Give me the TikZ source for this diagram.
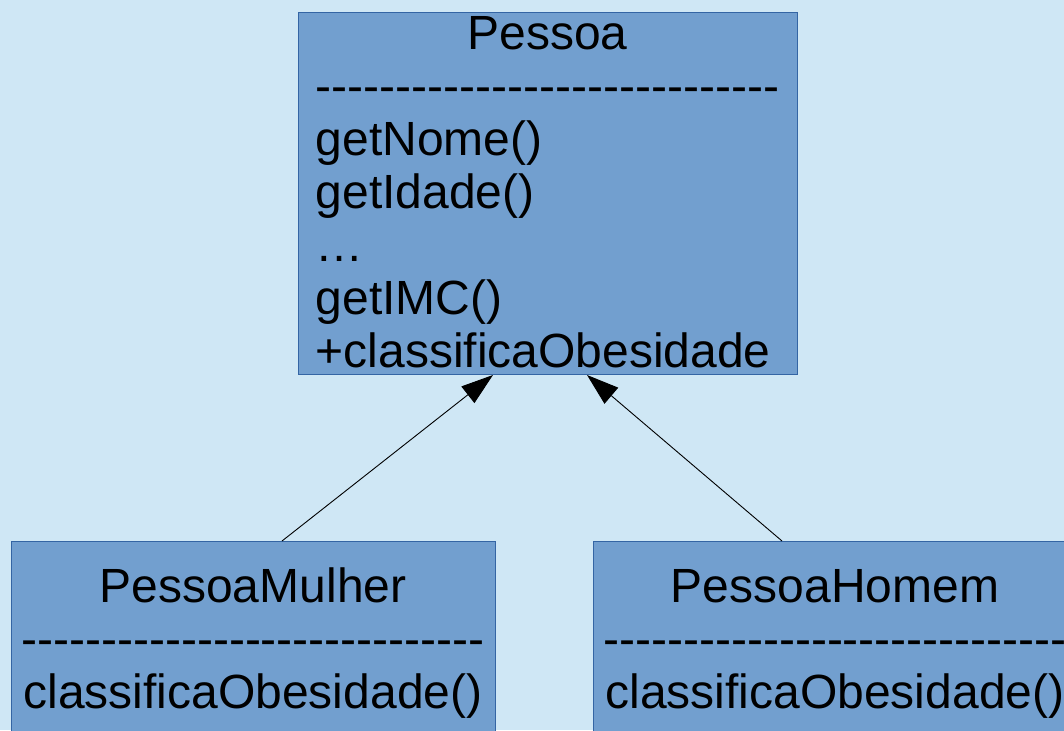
\documentclass[tikz,border=0pt]{standalone}
\usepackage{fontspec}
\setmainfont{Liberation Sans}
\usetikzlibrary{arrows.meta}
\definecolor{bg}{HTML}{CFE7F5}
\definecolor{boxfill}{HTML}{729FCF}
\definecolor{boxline}{HTML}{3465A4}
% a row of separate hyphens (kept apart so they never join into dashes)
\newcommand{\hy}{\hbox{-}}
\newcommand{\sepline}{\hy\hy\hy\hy\hy\hy\hy\hy\hy\hy\hy\hy\hy\hy\hy\hy\hy\hy\hy\hy\hy\hy\hy\hy\hy\hy\hy\hy\hy}
\tikzset{
  umlbox/.style={draw=boxline, fill=boxfill, line width=1pt, rectangle, inner sep=0pt},
  umltext/.style={font=\fontsize{48}{53}\selectfont, inner sep=0pt, text=black},
  inherits/.style={draw=black, line width=0.9pt, -{Triangle[length=32pt,width=21pt]}}
}
\begin{document}
\begin{tikzpicture}[x=1pt,y=-1pt]
  \useasboundingbox (0,0) rectangle (1064,730);
  \clip (0,0) rectangle (1064,730);
  \fill[bg] (0,0) rectangle (1064,730);

  % class boxes
  \node[umlbox, minimum width=499pt, minimum height=362pt, anchor=north west] (pessoa) at (298,12) {};
  \node[umlbox, minimum width=484pt, minimum height=230pt, anchor=north west] (mulher) at (11,541) {};
  \node[umlbox, minimum width=484pt, minimum height=230pt, anchor=north west] (homem) at (593,541) {};

  % Pessoa
  \node[umltext, anchor=base] (pName) at (547.5,49.5) {Pessoa};
  \node[umltext, anchor=base west] (pSep) at (315.5,102.5) {\sepline};
  \node[umltext, anchor=base west] (pM1) at (315.5,155.5) {getNome()};
  \node[umltext, anchor=base west] (pM2) at (315.5,208.5) {getIdade()};
  \node[umltext, anchor=base west] (pM3) at (315.5,261.5) {…};
  \node[umltext, anchor=base west] (pM4) at (315.5,314.5) {getIMC()};
  \node[umltext, anchor=base west] (pM5) at (315.5,367.5) {+classificaObesidade};

  % PessoaMulher
  \node[umltext, anchor=base] (mName) at (253,602) {PessoaMulher};
  \node[umltext, anchor=base] (mSep) at (253,655) {\sepline};
  \node[umltext, anchor=base] (mM1) at (253,708) {classificaObesidade()};

  % PessoaHomem
  \node[umltext, anchor=base] (hName) at (835,602) {PessoaHomem};
  \node[umltext, anchor=base] (hSep) at (835,655) {\sepline};
  \node[umltext, anchor=base] (hM1) at (835,708) {classificaObesidade()};

  % generalisation arrows
  \draw[inherits] ([xshift=271pt]mulher.north west) -- ([xshift=195pt]pessoa.south west);
  \draw[inherits] ([xshift=189pt]homem.north west) -- ([xshift=289pt]pessoa.south west);
\end{tikzpicture}
\end{document}
